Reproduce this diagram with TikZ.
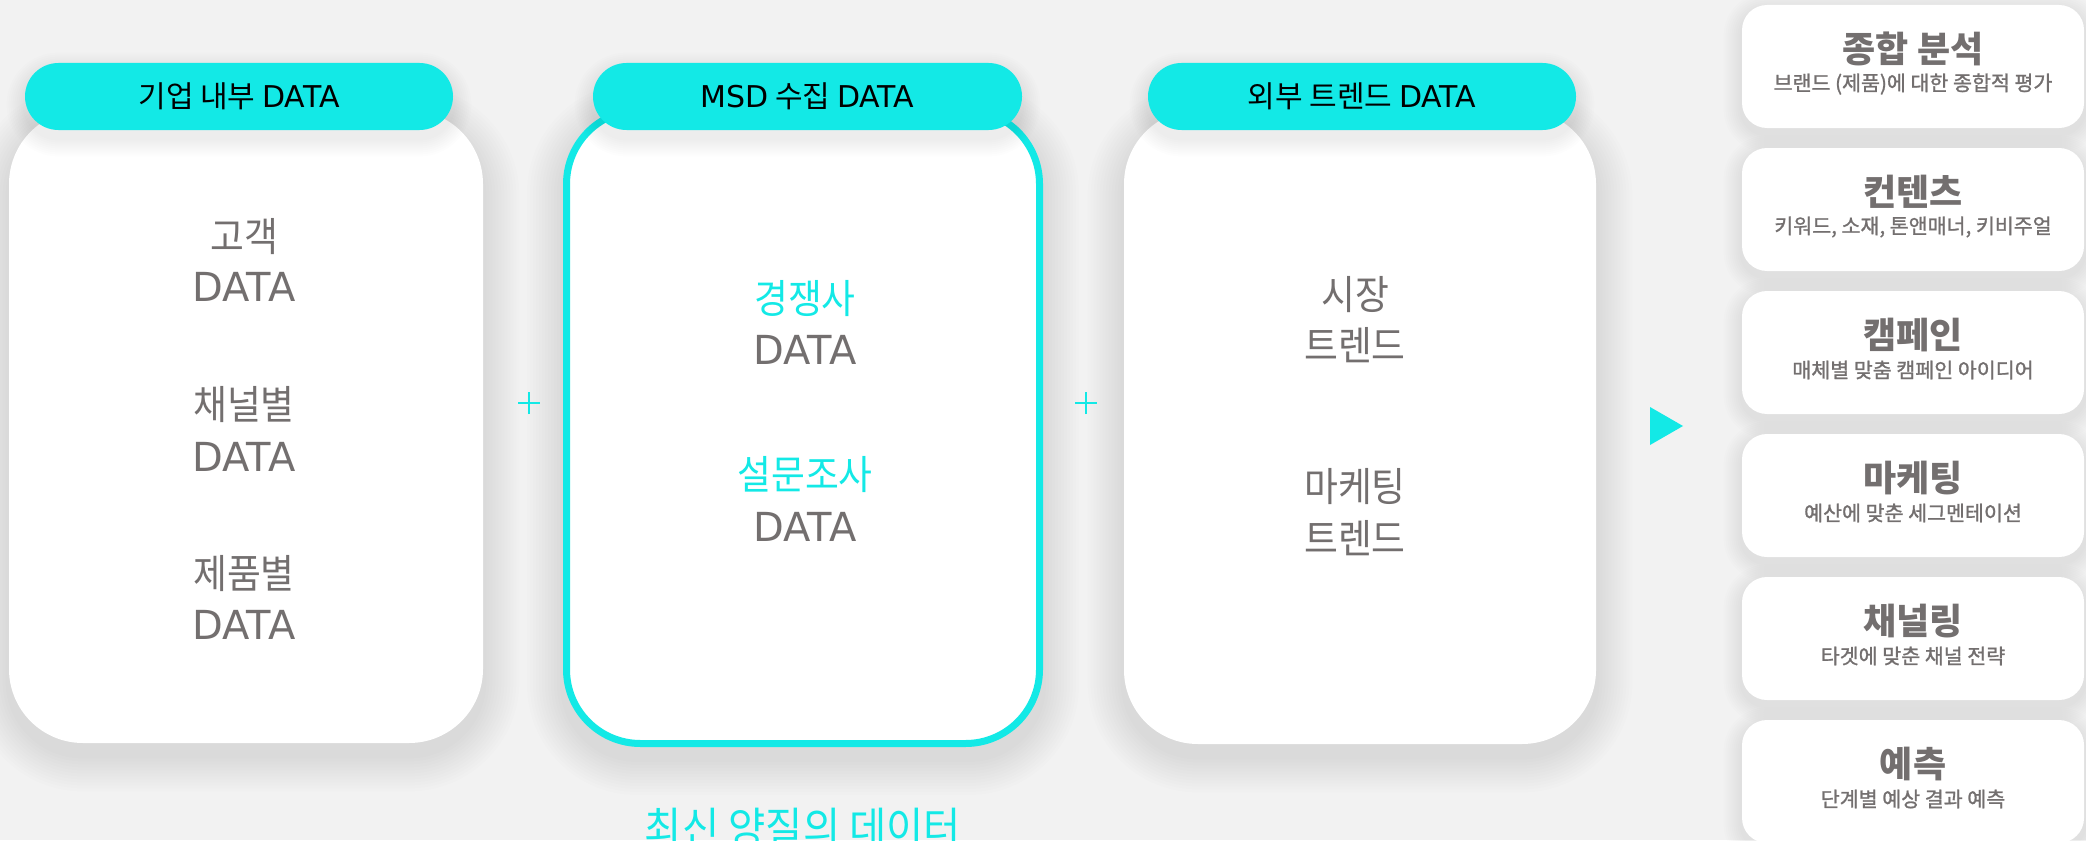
\documentclass[tikz,border=0pt]{standalone}
\usepackage{fontspec}
\newfontfamily\kr[FakeStretch=0.92]{Noto Sans CJK KR}
\newfontfamily\krw{Noto Sans CJK KR}
\newfontfamily\krm[FakeBold=1.2]{Noto Sans CJK KR}
\newfontfamily\lat{DejaVu Sans}
\definecolor{cy}{RGB}{19,233,230}
\definecolor{tg}{RGB}{115,111,111}
\definecolor{bgc}{RGB}{242,242,242}
\pgfdeclarelayer{bgl}
\pgfdeclarelayer{shl}
\pgfdeclarelayer{pshl}
\pgfdeclarelayer{top}
\pgfsetlayers{bgl,shl,main,pshl,top}
% #1 node, #2 layer, #3 corner radius (pt), #4 y offset (px), #5 steps, #6 step (px), #7 opacity
\newcommand\softsh[7]{%
  \begin{pgfonlayer}{#2}
  \foreach \i in {1,...,#5}{
    \pgfmathsetmacro\rr{#3+\i*#6*0.5}
    \pgfmathsetmacro\dd{\i*#6}
    \fill[black, fill opacity=#7, rounded corners=\rr pt]
      ([shift={(-\dd,-\dd+#4)}]#1.north west) rectangle ([shift={(\dd,\dd+#4)}]#1.south east);
  }
  \end{pgfonlayer}}
\begin{document}
\begin{tikzpicture}[x=0.5pt,y=-0.5pt,
  bodybox/.style={fill=white, rounded corners=37pt, inner sep=0pt},
  pillbox/.style={fill=cy, rounded corners=16.75pt, inner sep=0pt, minimum height=33.5pt},
  cardbox/.style={fill=white, rounded corners=12.5pt, inner sep=0pt, minimum width=171pt, minimum height=61.5pt},
  pilltext/.style={inner sep=0pt, text=black, font={\krw\fontsize{15}{18}\selectfont}},
  kline/.style={inner sep=0pt, font={\kr\fontsize{20}{24}\selectfont}},
  dline/.style={inner sep=0pt, text=tg, font={\lat\fontsize{20}{24}\selectfont}},
  ctitle/.style={inner sep=0pt, text=tg, font={\krw\bfseries\fontsize{18}{22}\selectfont}},
  csub/.style={inner sep=0pt, text=tg, font={\krm\fontsize{10.3}{13}\selectfont}},
  plusline/.style={draw=cy, line width=1.3pt}
]
\begin{pgfonlayer}{bgl}
\fill[bgc] (0,0) rectangle (2086,840);
\end{pgfonlayer}
\useasboundingbox (0,0) rectangle (2086,840);

% bodies
\node[bodybox, minimum width=237pt, minimum height=316.5pt] (b1) at (246,426.5) {};
\node[bodybox, draw=cy, line width=3.5pt, minimum width=236.5pt, minimum height=316.75pt] (b2) at (803,426.75) {};
\node[bodybox, minimum width=236pt, minimum height=317pt] (b3) at (1360,427) {};
\foreach \b in {b1,b2,b3}{\softsh{\b}{shl}{37}{12}{12}{3}{0.007}}

% pills
\begin{pgfonlayer}{top}
\node[pillbox, minimum width=214pt] (p1) at (239,96.5) {};
\node[pillbox, minimum width=214.5pt] (p2) at (807.5,96.5) {};
\node[pillbox, minimum width=214pt] (p3) at (1362,96.5) {};
\node[pilltext] (p1t) at (239,96.5) {기업 내부 {\lat\fontsize{15}{18}\selectfont DATA}};
\node[pilltext] (p2t) at (807.5,96.5) {{\lat\fontsize{15}{18}\selectfont MSD} 수집 {\lat\fontsize{15}{18}\selectfont DATA}};
\node[pilltext] (p3t) at (1362,96.5) {외부 트렌드 {\lat\fontsize{15}{18}\selectfont DATA}};
\end{pgfonlayer}
\foreach \p in {p1,p2,p3}{\softsh{\p}{pshl}{16.75}{8}{9}{2}{0.008}}

% box 1 texts
\node[kline, text=tg] (t11) at (244,237) {고객};
\node[dline] (t12) at (244,287) {DATA};
\node[kline, text=tg] (t21) at (244,405) {채널별};
\node[dline] (t22) at (244,457) {DATA};
\node[kline, text=tg] (t31) at (244,574) {제품별};
\node[dline] (t32) at (244,625) {DATA};

% box 2 texts
\node[kline, text=cy] (u11) at (805,299) {경쟁사};
\node[dline] (u12) at (805,350) {DATA};
\node[kline, text=cy] (u21) at (805,475) {설문조사};
\node[dline] (u22) at (805,527) {DATA};

% box 3 texts
\node[kline, text=tg] (v11) at (1355,295) {시장};
\node[kline, text=tg] (v12) at (1355,345) {트렌드};
\node[kline, text=tg] (v21) at (1355,487) {마케팅};
\node[kline, text=tg] (v22) at (1355,538) {트렌드};

% bottom caption
\node[inner sep=0pt, text=cy, font={\kr\fontsize{22}{27}\selectfont}] (cap) at (803,828) {최신 양질의 데이터};

% plus signs
\coordinate (pl1) at (529,403);
\coordinate (pl2) at (1086,403);
\foreach \c in {pl1,pl2}{
  \draw[plusline] ([xshift=-5.5pt]\c) -- ([xshift=5.5pt]\c);
  \draw[plusline] ([yshift=-5.5pt]\c) -- ([yshift=5.5pt]\c);
}

% arrow triangle
\fill[cy] (1650,407) -- (1683,426) -- (1650,445) -- cycle;

% cards
\foreach \n/\top/\ti/\su in {
  1/5/종합 분석/브랜드 (제품)에 대한 종합적 평가,
  2/148/컨텐츠/{키워드, 소재, 톤앤매너, 키비주얼},
  3/291/캠페인/매체별 맞춤 캠페인 아이디어,
  4/434/마케팅/예산에 맞춘 세그멘테이션,
  5/577/채널링/타겟에 맞춘 채널 전략,
  6/720/예측/단계별 예상 결과 예측}{
  \node[cardbox] (c\n) at (1913,\top+61.5) {};
  \node[ctitle] (c\n t) at (1913,\top+44) {\ti};
  \node[csub] (c\n s) at (1913,\top+79) {\su};
  \softsh{c\n}{shl}{12.5}{6}{9}{2}{0.008}
}
\end{tikzpicture}
\end{document}
